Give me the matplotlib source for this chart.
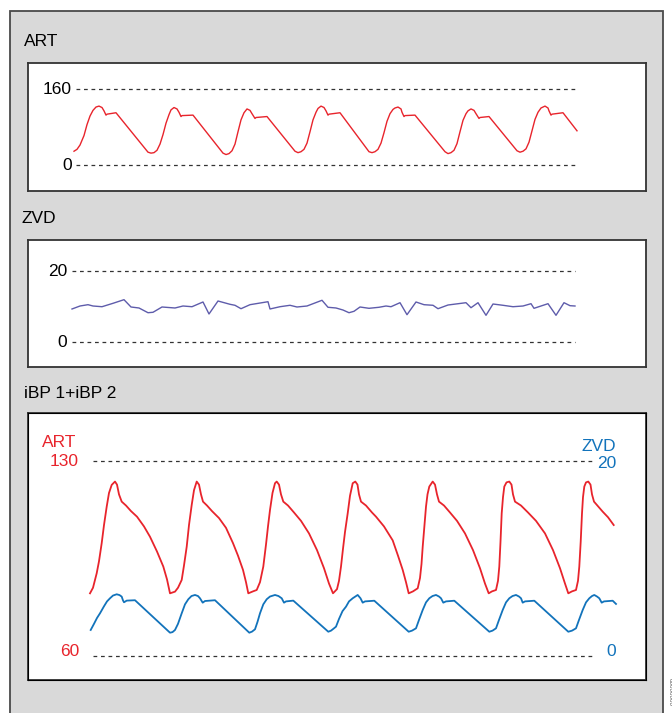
import matplotlib.pyplot as plt
from matplotlib.patches import Rectangle

plt.rcParams['font.family'] = ['Liberation Sans', 'DejaVu Sans']

W, H = 672, 713

# --- ART (top panel), time in samples, pressure in mmHg
art_t = [74, 77, 80, 84, 87, 90, 93, 96, 99, 102, 104, 106, 107, 116,
         148, 151, 154,
         157, 160, 163, 166, 169, 171, 174, 177, 179, 181, 182, 193,
         223, 226, 229,
         232, 235, 238, 241, 244, 247, 250, 252, 255, 256, 267,
         295, 298, 301,
         304, 307, 310, 313, 316, 318, 321, 324, 326, 328, 329, 340,
         369, 372, 375,
         378, 381, 384, 387, 390, 393, 395, 398, 401, 402, 404, 405, 415,
         445, 448, 451,
         454, 457, 460, 463, 466, 468, 471, 474, 476, 479, 480, 489,
         517, 520, 523,
         526, 529, 532, 535, 538, 541, 545, 548, 549, 551, 552, 563,
         577]
art_v = [29, 33, 42, 62, 85, 103, 115, 122, 124, 121, 114, 105, 107, 110,
         27, 25, 26,
         31, 44, 64, 88, 106, 116, 121, 118, 111, 102, 104, 105,
         25, 22, 24,
         30, 44, 70, 95, 110, 118, 115, 108, 98, 100, 102,
         29, 26, 28,
         33, 46, 70, 95, 111, 119, 124, 121, 114, 105, 107, 110,
         28, 26, 28,
         33, 46, 68, 92, 108, 117, 120, 122, 118, 111, 102, 104, 105,
         28, 24, 26,
         31, 45, 70, 94, 108, 114, 118, 115, 108, 98, 100, 102,
         30, 27, 29,
         34, 48, 72, 96, 111, 120, 124, 120, 114, 105, 107, 110,
         72]

# --- ZVD (middle panel), mmHg
zvd_t = [72, 80, 88, 93, 102, 113, 124, 131, 139, 148, 153, 162, 175, 183,
         192, 203, 209, 218, 230, 235, 241, 250, 268, 270, 280, 290, 297,
         307, 322, 328, 336, 343, 349, 354, 360, 369, 379, 386, 391, 400,
         407, 416, 424, 433, 438, 448, 466, 471, 478, 486, 493, 503, 513,
         523, 531, 534, 548, 556, 564, 570, 575]
zvd_v = [9.30, 10.14, 10.51, 10.14, 9.94, 10.90, 11.92, 9.86, 9.58, 8.25,
         8.37, 9.86, 9.58, 10.14, 9.94, 11.27, 7.89, 11.55, 10.62, 10.34,
         9.38, 10.51, 11.35, 9.30, 9.94, 10.34, 9.86, 10.14, 11.75, 9.78,
         9.58, 9.01, 8.25, 8.65, 9.86, 9.49, 9.78, 10.14, 9.94, 11.07,
         7.69, 11.27, 10.51, 10.34, 9.38, 10.42, 11.07, 9.66, 11.07, 7.52,
         10.70, 10.34, 9.94, 10.14, 10.79, 9.49, 10.79, 7.52, 11.07, 10.23,
         10.14]

# --- iBP 1 (ART) combined panel
ibp1_t = [90, 93, 96.7, 99, 101.7, 104, 106.7, 109, 111.7, 115, 117, 119,
          121.7, 126, 131, 137, 144, 150, 157, 163.3, 167, 170,
          175, 178, 181.7, 184, 186.7, 189, 191.7, 194, 196.7, 199, 201, 203,
          207, 212, 219, 226, 233, 238, 243, 246, 248.3,
          253, 256.7, 260, 263.3, 266, 268, 270, 272.5, 275, 276.7, 279, 281,
          283.3, 288, 294, 301, 309, 317, 324, 329, 333,
          337, 339, 341, 343, 345, 347.7, 350, 352.7, 355.3, 357.5, 359, 361,
          366, 372, 376, 384, 392.7, 398, 402.7, 406, 408.7,
          413, 417.7, 420, 421.5, 422.7, 424.5, 426, 427.5, 429.3, 432.7, 435,
          437, 439, 444, 450, 457, 465, 473, 480, 485, 488.7,
          492, 496, 498, 499.3, 500.5, 501.7, 503, 504.3, 506.5, 509.3, 511.5,
          513, 515, 521, 528, 536, 545, 553, 560, 565, 568.3,
          572, 576, 578, 579.3, 580.7, 582, 583, 584.3, 586, 588.3, 590.5, 592,
          594, 602.7, 608, 613.7]
ibp1_v = [82.5, 84.5, 89.7, 94, 100.5, 107, 113.6, 118.5, 121.4, 122.6, 121.5, 118,
          115.4, 114, 112, 110, 106.5, 102.8, 97.5, 92.1, 87.5, 82.5,
          83.1, 84.5, 87.3, 92.5, 99.2, 107, 114.2, 119.5, 122.6, 121.5, 118, 115.4,
          114, 112, 109.5, 106, 100.5, 96, 90.9, 86.5, 82.5,
          83.2, 83.7, 86.5, 92.1, 100, 106.5, 112.4, 118.5, 122, 122.6, 121.5, 118,
          115.4, 114, 111.5, 108.5, 104, 98, 91.5, 86, 82.5,
          84, 87, 92.1, 98.5, 104.5, 111.2, 117.5, 122, 122.6, 121.5, 118, 115.4,
          114, 111.5, 110, 106.5, 101.5, 96, 90.9, 86.5, 82.5,
          83.2, 84.3, 88, 93, 99.2, 107, 113.6, 118, 120.8, 122.6, 121.5,
          118, 115.4, 114, 111.5, 108.5, 104, 98, 91.5, 86, 82.5,
          83.2, 83.7, 87, 92.1, 101, 111.2, 117, 120.8, 122.3, 122.6, 121.5,
          118, 115.4, 114, 111.5, 108.5, 104, 98, 91.5, 86, 82.5,
          83.2, 83.7, 87, 92.1, 101, 111.2, 117, 120.8, 122.3, 122.6, 121.5, 118,
          115.4, 111.8, 109.8, 107]

# --- iBP 2 (ZVD) combined panel
ibp2_t = [90.7, 94, 97, 100, 104, 107, 110, 113, 116.7, 119.5, 121.7, 123, 124,
          126.7, 135,
          170, 172.5, 175, 178, 181.7, 185, 188.3, 191.5, 195, 198, 200, 202.7,
          205, 215,
          249.3, 252, 255, 257.5, 260, 263.3, 266.7, 270, 275, 278.5, 281.7, 284,
          286, 293.3,
          328.3, 331, 333.5, 336, 339, 342.5, 346, 349, 352.7, 357.7, 360.5,
          362.7, 365, 374.3,
          408.7, 412, 416, 419, 422.7, 426, 429.3, 432.5, 436, 439, 441, 443.3,
          446, 454.3,
          489.3, 492.5, 496, 499, 502.7, 506, 509.3, 512.5, 516, 519, 521, 522.7,
          525, 534.3,
          568.3, 572, 576, 579, 582.7, 586, 589.3, 592, 594.3, 597, 599.3, 601.7,
          604, 612.7, 616]
ibp2_v = [2.67, 3.3, 3.9, 4.38, 5.1, 5.6, 5.92, 6.2, 6.33, 6.25, 6.09, 5.7, 5.51,
          5.68, 5.72,
          2.39, 2.45, 2.67, 3.3, 4.38, 5.3, 5.82, 6.15, 6.26, 6.15, 5.92, 5.47,
          5.64, 5.72,
          2.39, 2.5, 2.74, 3.5, 4.38, 5.3, 5.82, 6.1, 6.26, 6.15, 5.92, 5.47,
          5.6, 5.68,
          2.49, 2.6, 2.8, 3.01, 3.8, 4.6, 5.06, 5.6, 5.92, 6.26, 5.92,
          5.47, 5.6, 5.67,
          2.49, 2.6, 2.84, 3.7, 4.72, 5.5, 5.92, 6.15, 6.26, 6.1, 5.92, 5.47,
          5.6, 5.67,
          2.49, 2.6, 2.84, 3.7, 4.72, 5.5, 5.92, 6.15, 6.26, 6.1, 5.92, 5.47,
          5.6, 5.67,
          2.49, 2.6, 2.84, 3.7, 4.72, 5.5, 5.92, 6.15, 6.26, 6.1, 5.92, 5.47,
          5.6, 5.67, 5.34]

RED = '#e8242c'
BLUE = '#1273bb'
PURPLE = '#5e5cab'
DASH = dict(color='#333333', lw=0.9, linestyles=(0, (3, 3)))


def fig_axes(fig, x0, y0, x1, y1):
    return fig.add_axes([x0 / W, 1 - y1 / H, (x1 - x0) / W, (y1 - y0) / H])


def fig_text(fig, x, y, s, **kw):
    fig.text(x / W, 1 - y / H, s, va='center', **kw)


def style_box(ax):
    ax.set_xticks([])
    ax.set_yticks([])
    ax.set_facecolor('white')
    for sp in ax.spines.values():
        sp.set_color('#333333')
        sp.set_linewidth(1.3)
    ax.set_xlim(28, 646)


fig = plt.figure(figsize=(W / 100, H / 100), dpi=100)
fig.patch.set_facecolor('white')
fig.patches.append(Rectangle((10 / W, -0.01), 653 / W, 1 - 11 / H + 0.01,
                             transform=fig.transFigure, facecolor='#d9d9d9',
                             edgecolor='#4a4a4a', lw=1.3, zorder=-5))

# top: ART
ax1 = fig_axes(fig, 28, 63, 646, 191)
style_box(ax1)
ax1.set_ylim(-54.7, 214.7)
ax1.hlines([0, 160], 76, 577, **DASH)
ax1.plot(art_t, art_v, color=RED, lw=1.0)
fig_text(fig, 24, 42, 'ART', fontsize=12.5)
fig_text(fig, 72, 90, '160', fontsize=12.5, ha='right')
fig_text(fig, 72, 166, '0', fontsize=12.5, ha='right')

# middle: ZVD
ax2 = fig_axes(fig, 28, 240, 646, 367)
style_box(ax2)
ax2.set_ylim(-7.04, 28.73)
ax2.hlines([0, 20], 72, 575, **DASH)
ax2.plot(zvd_t, zvd_v, color=PURPLE, lw=1.0)
fig_text(fig, 22, 218, 'ZVD', fontsize=12.5)
fig_text(fig, 67, 271, '20', fontsize=12.5, ha='right')
fig_text(fig, 67, 343, '0', fontsize=12.5, ha='right')

# bottom: iBP 1 + iBP 2
ax3 = fig_axes(fig, 28, 413, 646, 680)
style_box(ax3)
ax3.set_ylim(51.4, 147.2)
ax3.hlines([60, 130], 93, 594, **DASH)
ax3.plot(ibp1_t, ibp1_v, color=RED, lw=1.3)
ax4 = ax3.twinx()
ax4.set_yticks([])
ax4.set_ylim(-2.46, 24.92)
ax4.plot(ibp2_t, ibp2_v, color=BLUE, lw=1.3)
fig_text(fig, 24, 393, 'iBP 1+iBP 2', fontsize=12.5)
fig_text(fig, 42, 443, 'ART', fontsize=12.5, color=RED)
fig_text(fig, 79, 462, '130', fontsize=12.5, color=RED, ha='right')
fig_text(fig, 79, 652, '60', fontsize=12.5, color=RED, ha='right')
fig_text(fig, 616, 447, 'ZVD', fontsize=12.5, color=BLUE, ha='right')
fig_text(fig, 616, 463, '20', fontsize=12.5, color=BLUE, ha='right')
fig_text(fig, 616, 652, '0', fontsize=12.5, color=BLUE, ha='right')

fig_text(fig, 670, 692, '00000000', fontsize=4.5, color='#555555',
         rotation=270, ha='center')

fig.savefig('out.png', dpi=100)
